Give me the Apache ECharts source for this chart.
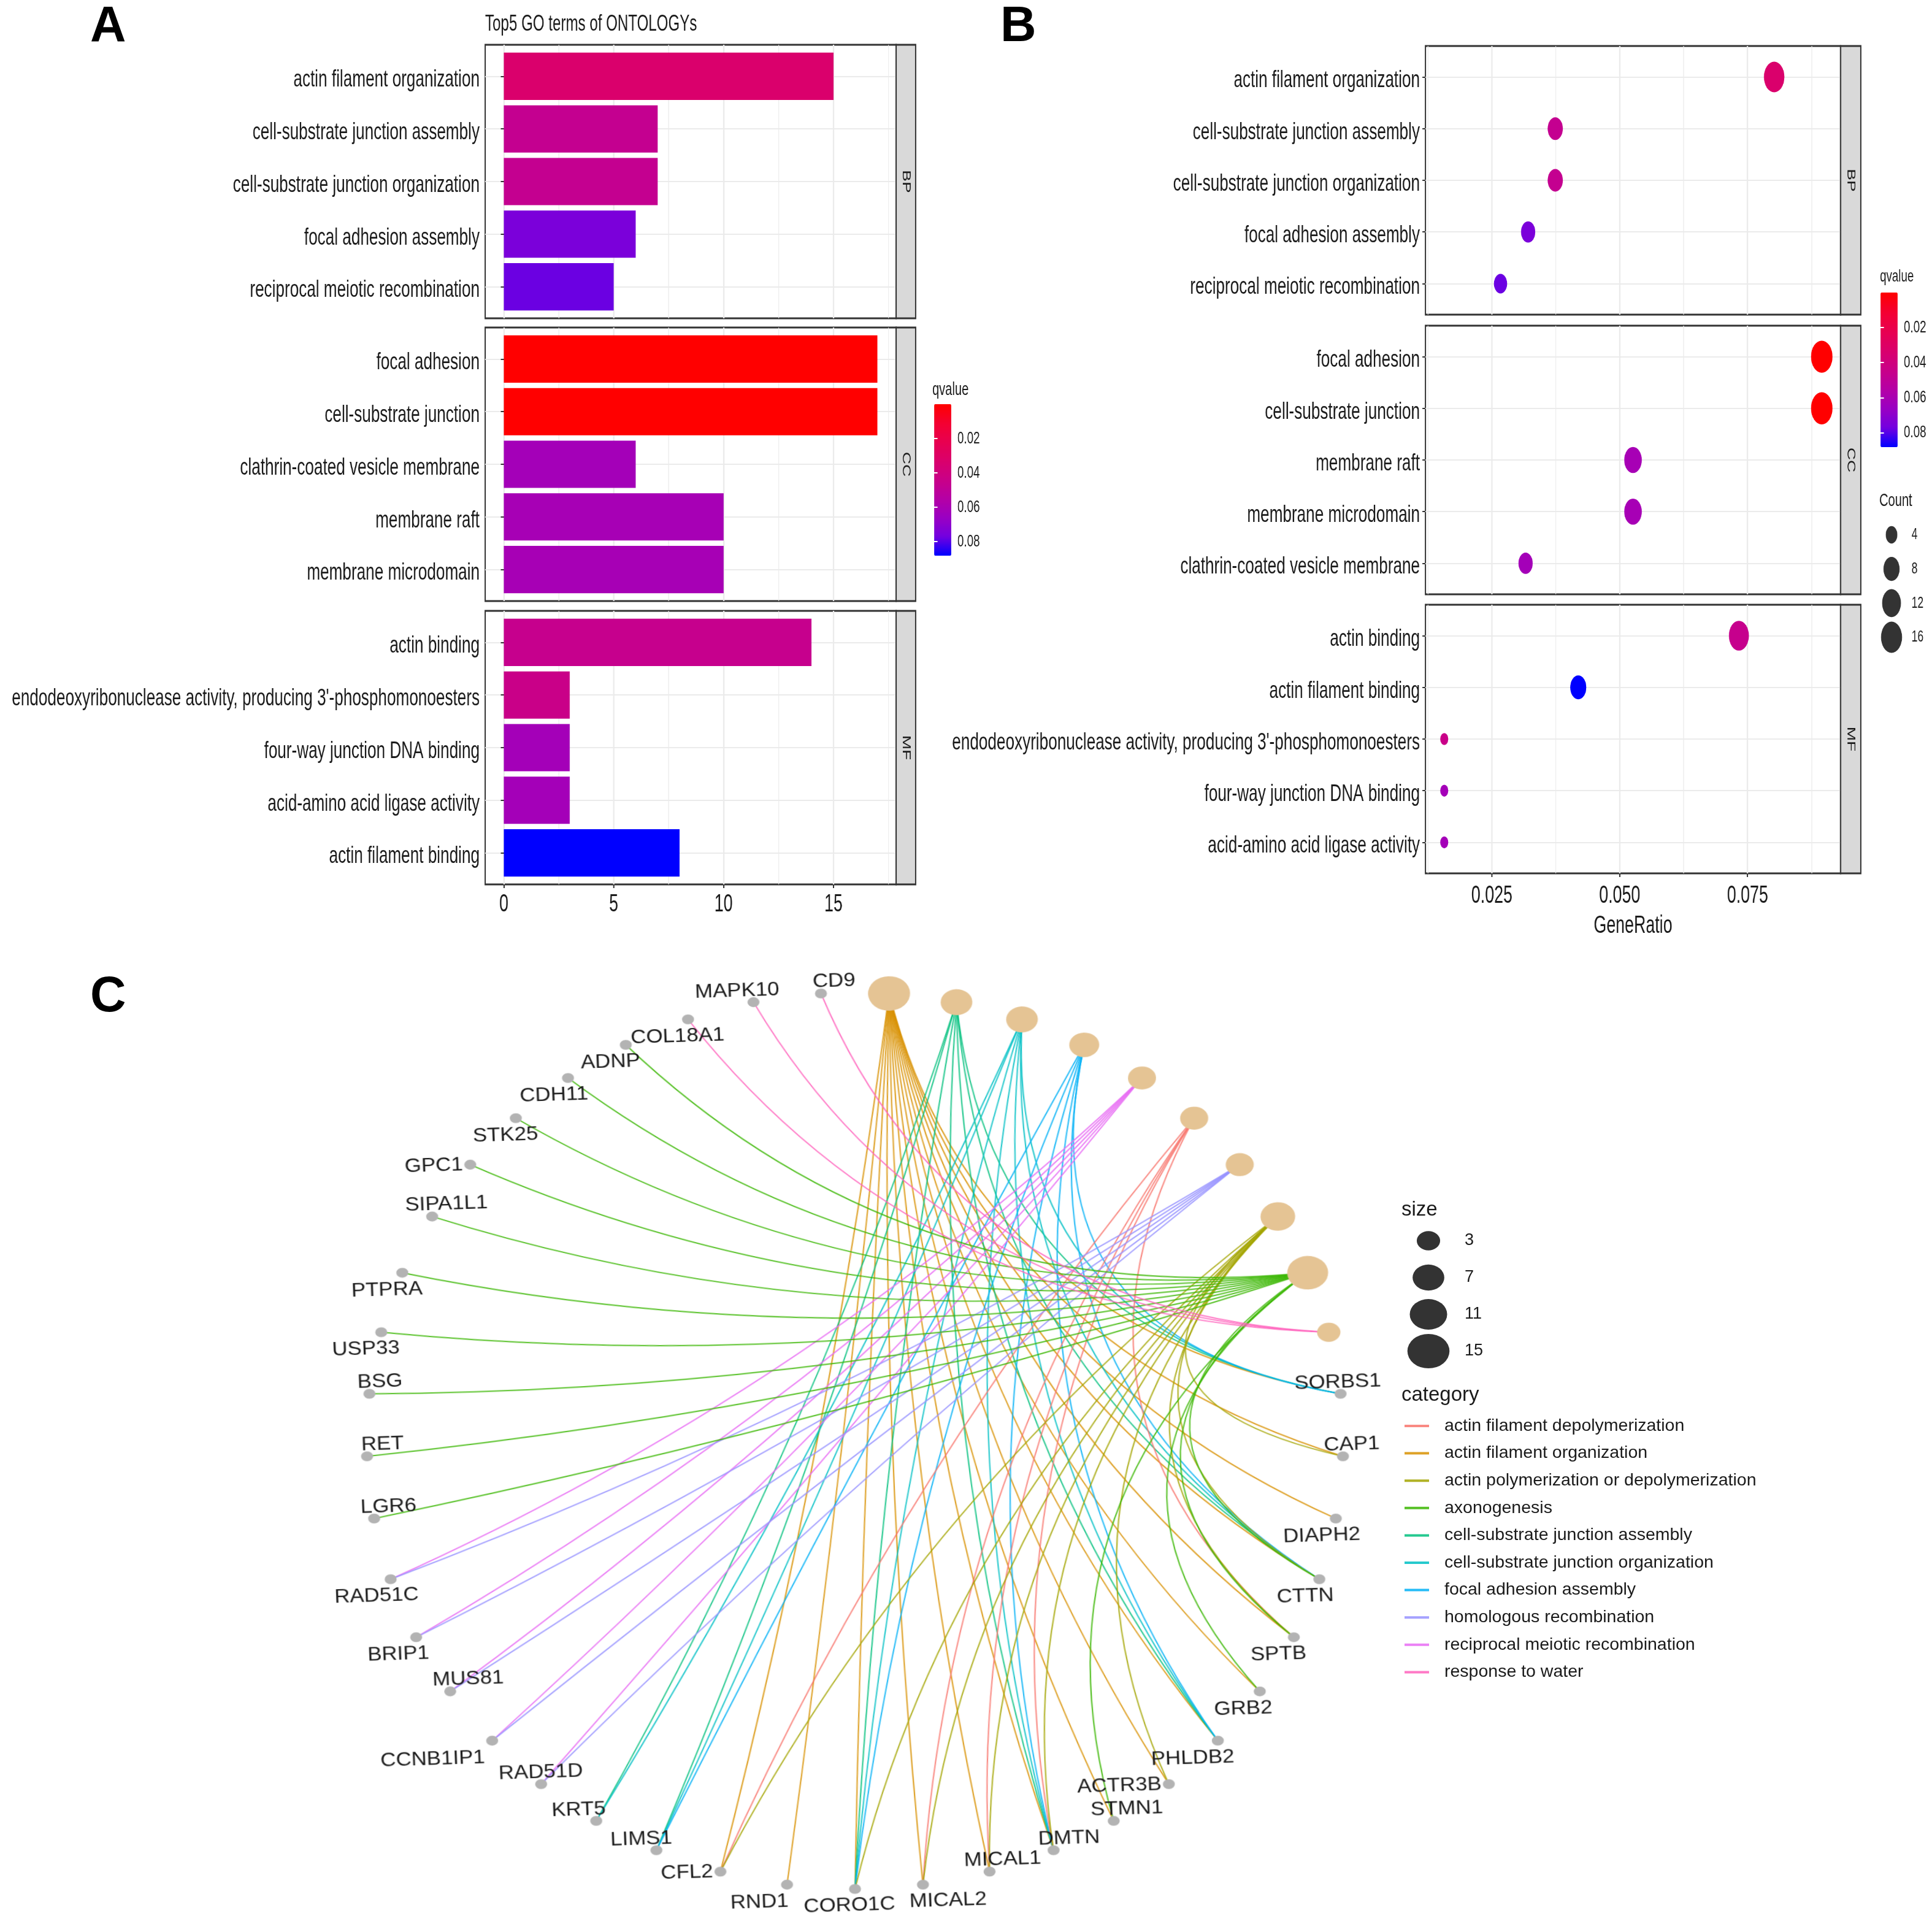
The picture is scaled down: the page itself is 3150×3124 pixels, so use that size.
<!DOCTYPE html>
<html>
<head>
<meta charset="utf-8">
<title>GO enrichment</title>
<script src="https://cdn.jsdelivr.net/npm/echarts@6.0.0/dist/echarts.min.js"></script>
<style>
html,body{margin:0;padding:0;overflow:hidden;background:#ffffff;width:3150px;height:3124px;}
#main{position:absolute;left:0;top:0;width:3150px;height:3124px;}
#ab{position:absolute;left:0;top:0;width:4702px;height:1560px;transform:scaleX(0.67);transform-origin:0 0;}
#net{position:absolute;left:394px;top:1499px;width:2000px;height:1625px;transform:scaleX(1.089) rotate(-2deg);transform-origin:1000px 850px;}
</style>
</head>
<body>
<div id="main"></div>
<div id="ab"></div>
<div id="net"></div>
<script>
// ================= DATA: panel A (bar) and B (dot) =================
const bpTerms = ['actin filament organization','cell-substrate junction assembly','cell-substrate junction organization','focal adhesion assembly','reciprocal meiotic recombination'];
const bpCount = [15, 7, 7, 6, 5];
const bpQ = [0.033, 0.047, 0.047, 0.075, 0.078];
const bpRatio = [0.0802, 0.0374, 0.0374, 0.0321, 0.0267];

const ccTermsA = ['focal adhesion','cell-substrate junction','clathrin-coated vesicle membrane','membrane raft','membrane microdomain'];
const ccCountA = [17, 17, 6, 10, 10];
const ccQA = [0.0001, 0.0001, 0.062, 0.061, 0.061];
const ccTermsB = ['focal adhesion','cell-substrate junction','membrane raft','membrane microdomain','clathrin-coated vesicle membrane'];
const ccCountB = [17, 17, 10, 10, 6];
const ccQB = [0.0001, 0.0001, 0.061, 0.061, 0.062];
const ccRatioB = [0.0895, 0.0895, 0.0526, 0.0526, 0.0316];

const mfTermsA = ['actin binding', "endodeoxyribonuclease activity, producing 3'-phosphomonoesters", 'four-way junction DNA binding', 'acid-amino acid ligase activity', 'actin filament binding'];
const mfCountA = [14, 3, 3, 3, 8];
const mfQA = [0.046, 0.044, 0.062, 0.062, 0.0882];
const mfTermsB = ['actin binding', 'actin filament binding', "endodeoxyribonuclease activity, producing 3'-phosphomonoesters", 'four-way junction DNA binding', 'acid-amino acid ligase activity'];
const mfCountB = [14, 8, 3, 3, 3];
const mfQB = [0.046, 0.0882, 0.044, 0.062, 0.062];
const mfRatioB = [0.0733, 0.0419, 0.0157, 0.0157, 0.0157];

// ================= DATA: panel C (gene-concept network) =================
const cnetCategories = ['actin filament organization','cell-substrate junction assembly','cell-substrate junction organization','focal adhesion assembly','reciprocal meiotic recombination','actin filament depolymerization','homologous recombination','actin polymerization or depolymerization','axonogenesis','response to water'];
const cnetGenes = [
  ['SORBS1','CAP1','DIAPH2','CTTN','SPTB','GRB2','PHLDB2','ACTR3B','STMN1','DMTN','MICAL1','MICAL2','CORO1C','RND1','CFL2'],
  ['LIMS1','KRT5','SORBS1','CTTN','PHLDB2','DMTN','CORO1C'],
  ['LIMS1','KRT5','SORBS1','CTTN','PHLDB2','DMTN','CORO1C'],
  ['LIMS1','SORBS1','CTTN','PHLDB2','DMTN','CORO1C'],
  ['RAD51D','CCNB1IP1','MUS81','BRIP1','RAD51C'],
  ['SPTB','DMTN','MICAL1','MICAL2','CFL2'],
  ['RAD51D','CCNB1IP1','MUS81','BRIP1','RAD51C'],
  ['CAP1','CTTN','SPTB','ACTR3B','DMTN','MICAL1','MICAL2','CORO1C','CFL2'],
  ['LGR6','RET','BSG','USP33','PTPRA','SIPA1L1','GPC1','STK25','CDH11','ADNP','STMN1','CTTN','SPTB','GRB2'],
  ['COL18A1','MAPK10','CD9']
];

// ================= tick / legend labels =================
const countTicks = [0, 5, 10, 15];
const countMinor = [2.5, 7.5, 12.5, 17.5];
const ratioTicks = [0.025, 0.050, 0.075];
const ratioMinor = [0.0125, 0.0375, 0.0625, 0.0875];
const qTicks = [0.02, 0.04, 0.06, 0.08];
const countLegend = [4, 8, 12, 16];
const sizeLegend = [3, 7, 11, 15];
const facets = ['BP', 'CC', 'MF'];

// ================= styles / layout =================
const FONT = "'Liberation Sans', Arial, Helvetica, sans-serif";
const TXT = '#1a1a1a';
const GRID_C = '#EBEBEB';
const QCOLORS = ['#FF0000','#F40031','#E80050','#DA006C','#C90088','#B500A5','#9A00C3','#7300E0','#0000FF'];
const HUE = ['#F8766D','#D89000','#A3A500','#39B600','#00BF7D','#00BFC4','#00B0F6','#9590FF','#E76BF3','#FF62BC'];
const S = 0.67;               // horizontal squeeze of panels A/B
const fx = v => v / S;
const A_LAY = {left: 791, right: 1461, strip: 32, h: 446, tops: [73, 534, 996]};
const B_LAY = {left: 2324, right: 3001, strip: 33, h: 438, tops: [75, 531, 986]};
// gene label placement (side, horizontal nudge in page px) - styling only
const geneLabelStyle = {
  SORBS1:['top',-4], CAP1:['top',15], DIAPH2:['bottom',-24], CTTN:['bottom',-24], SPTB:['bottom',-26], GRB2:['bottom',-28],
  PHLDB2:['bottom',-42], ACTR3B:['left',0], STMN1:['top',22], DMTN:['top',26], MICAL1:['top',22], MICAL2:['bottom',40],
  CORO1C:['bottom',-10], RND1:['bottom',-46], CFL2:['left',0], LIMS1:['top',-24], KRT5:['top',-28], RAD51D:['top',0],
  CCNB1IP1:['bottom',-98], MUS81:['top',30], BRIP1:['bottom',-30], RAD51C:['bottom',-24], LGR6:['top',24], RET:['top',26],
  BSG:['top',18], USP33:['bottom',-26], PTPRA:['bottom',-26], SIPA1L1:['top',24], GPC1:['left',0], STK25:['bottom',-18],
  CDH11:['bottom',-24], ADNP:['bottom',-26], COL18A1:['bottom',-18], MAPK10:['top',-26], CD9:['top',22]
};

// ================= scales =================
const allQ = bpQ.concat(ccQA, mfQA);
const qMin = Math.min(...allQ), qMax = Math.max(...allQ);
function expand(lo, hi) { const d = (hi - lo) * 0.05; return [lo - d, hi + d]; }
const aRange = expand(0, Math.max(...bpCount, ...ccCountA, ...mfCountA));
const allRatio = bpRatio.concat(ccRatioB, mfRatioB);
const bRange = expand(Math.min(...allRatio), Math.max(...allRatio));
const allCountB = bpCount.concat(ccCountB, mfCountB);
const cMin = Math.min(...allCountB), cMax = Math.max(...allCountB);
const dotSize = v => 19.5 + 32.8 * Math.sqrt(Math.max(0, (v - cMin) / (cMax - cMin)));
const nodeW = v => 19.6 + 13.1 * Math.sqrt(v - 1);
const NODE_ASPECT = 1.22;
const C_STRETCH = 1.089;
const NODE_BOX = 80;   // every network node shares one symbol box so the circular layout spaces them evenly

// ================= Panels A + B =================
const grids = [], xAxes = [], yAxes = [], series = [], graphics = [];
function addFacet(o) {
  const n = o.terms.length;
  const unit = o.h / (n + 0.2);
  const L = fx(o.left), W = fx(o.right - o.left);
  const fg = grids.length;
  grids.push({left: L, top: o.top, width: W, height: o.h, show: true, backgroundColor: '#ffffff', borderColor: '#333333', borderWidth: 3, outerBoundsMode: 'none', containLabel: false});
  xAxes.push({gridIndex: fg, type: 'value', min: o.range[0], max: o.range[1], position: 'bottom',
    axisLine: {show: false},
    axisTick: {show: o.bottom, customValues: o.major, length: 6, lineStyle: {color: '#333333', width: fx(2)}},
    axisLabel: {show: o.bottom, customValues: o.major, fontSize: 40, color: TXT, margin: o.labelMargin, formatter: o.fmt, fontFamily: FONT},
    splitLine: {show: true, lineStyle: {color: GRID_C, width: fx(2.2)}},
    name: (o.bottom && o.name) ? o.name : '', nameLocation: 'middle', nameGap: o.nameGap || 0,
    nameTextStyle: {fontSize: 40, color: TXT, fontFamily: FONT}});
  xAxes.push({gridIndex: fg, type: 'value', min: o.range[0], max: o.range[1], position: 'top',
    axisLine: {show: false}, axisTick: {show: false, customValues: o.minor}, axisLabel: {show: false, customValues: o.minor},
    splitLine: {show: true, lineStyle: {color: GRID_C, width: fx(1.1)}}});
  const pos = o.terms.map((_, i) => i + 1);
  yAxes.push({gridIndex: fg, type: 'value', inverse: true, min: 0.4, max: n + 0.6,
    axisLine: {show: false}, axisTick: {show: false, customValues: pos}, axisLabel: {show: false, customValues: pos},
    splitLine: {show: true, lineStyle: {color: GRID_C, width: 2.2}}});
  const dg = grids.length;
  grids.push({left: L, top: o.top + 0.1 * unit, width: W, height: o.h - 0.2 * unit, show: false, outerBoundsMode: 'none', containLabel: false});
  xAxes.push({gridIndex: dg, type: 'value', min: o.range[0], max: o.range[1], show: false});
  yAxes.push({gridIndex: dg, type: 'category', data: o.terms, inverse: true,
    axisLine: {show: false},
    axisTick: {show: true, alignWithLabel: true, length: fx(5), lineStyle: {color: '#333333', width: 2}},
    axisLabel: {interval: 0, margin: fx(9), formatter: v => '{t|' + v + '}',
      rich: {t: {fontSize: 39, color: TXT, fontFamily: FONT, padding: [12, 0, 0, 0]}}},
    splitLine: {show: false}});
  graphics.push({type: 'rect', z: 10, shape: {x: fx(o.right), y: o.top, width: fx(o.strip), height: o.h}, style: {fill: '#D9D9D9', stroke: '#333333', lineWidth: 3}});
  graphics.push({type: 'text', z: 11, x: fx(o.right + o.strip / 2), y: o.top + o.h / 2, rotation: -Math.PI / 2,
    style: {text: o.facet, fontSize: 28, fill: TXT, align: 'center', verticalAlign: 'middle', fontFamily: FONT}});
  return {x: xAxes.length - 1, y: yAxes.length - 1};
}

const facetA = [
  {terms: bpTerms, count: bpCount, q: bpQ},
  {terms: ccTermsA, count: ccCountA, q: ccQA},
  {terms: mfTermsA, count: mfCountA, q: mfQA}
];
facetA.forEach((f, p) => {
  const ax = addFacet({terms: f.terms, left: A_LAY.left, right: A_LAY.right, strip: A_LAY.strip, top: A_LAY.tops[p], h: A_LAY.h,
    range: aRange, major: countTicks, minor: countMinor, bottom: p === 2, fmt: v => String(v), labelMargin: 13, facet: facets[p]});
  series.push({type: 'bar', xAxisIndex: ax.x, yAxisIndex: ax.y, barWidth: '90%', encode: {x: 0, y: 1},
    data: f.terms.map((t, i) => [f.count[i], t, f.q[i]]), z: 3, silent: true});
});

const facetB = [
  {terms: bpTerms, ratio: bpRatio, count: bpCount, q: bpQ},
  {terms: ccTermsB, ratio: ccRatioB, count: ccCountB, q: ccQB},
  {terms: mfTermsB, ratio: mfRatioB, count: mfCountB, q: mfQB}
];
facetB.forEach((f, p) => {
  const ax = addFacet({terms: f.terms, left: B_LAY.left, right: B_LAY.right, strip: B_LAY.strip, top: B_LAY.tops[p], h: B_LAY.h,
    range: bRange, major: ratioTicks, minor: ratioMinor, bottom: p === 2, fmt: v => v.toFixed(3), labelMargin: 17,
    name: 'GeneRatio', nameGap: 66, facet: facets[p]});
  series.push({type: 'scatter', xAxisIndex: ax.x, yAxisIndex: ax.y, encode: {x: 0, y: 1},
    data: f.terms.map((t, i) => [f.ratio[i], t, f.count[i], f.q[i]]),
    symbolSize: d => dotSize(d[2]), itemStyle: {opacity: 1}, z: 3, silent: true});
});

// colour-bar tick axes
function addColorbarAxis(left, top, width, height) {
  const g = grids.length;
  grids.push({left: left, top: top, width: width, height: height, show: false, outerBoundsMode: 'none', containLabel: false});
  xAxes.push({gridIndex: g, type: 'value', min: 0, max: 1, show: false});
  yAxes.push({gridIndex: g, type: 'value', position: 'right', inverse: true, min: qMin, max: qMax, z: 10,
    axisLine: {show: false}, splitLine: {show: false},
    axisTick: {show: true, inside: true, customValues: qTicks, length: width * 0.2, lineStyle: {color: '#ffffff', width: 2}},
    axisLabel: {customValues: qTicks, fontSize: 28, color: TXT, margin: fx(10), formatter: v => v.toFixed(2), fontFamily: FONT}});
  yAxes.push({gridIndex: g, type: 'value', position: 'left', inverse: true, min: qMin, max: qMax, z: 10,
    axisLine: {show: false}, splitLine: {show: false},
    axisTick: {show: true, inside: true, customValues: qTicks, length: width * 0.2, lineStyle: {color: '#ffffff', width: 2}},
    axisLabel: {show: false}});
}
addColorbarAxis(fx(1523), 659, fx(28), 247);
addColorbarAxis(fx(3066), 477, fx(28), 252);

// Count (size) legend of panel B
(function () {
  const unitC = (1039 - 872) / 3;
  const g = grids.length;
  grids.push({left: fx(3084) - 1, top: 872 - unitC / 2, width: 2, height: unitC * 4, show: false, outerBoundsMode: 'none', containLabel: false});
  xAxes.push({gridIndex: g, type: 'value', min: -1, max: 1, show: false});
  yAxes.push({gridIndex: g, type: 'category', data: countLegend.map(String), inverse: true, position: 'right',
    axisLine: {show: false}, axisTick: {show: false}, splitLine: {show: false},
    axisLabel: {interval: 0, fontSize: 26, color: TXT, margin: fx(32), fontFamily: FONT}});
  series.push({type: 'scatter', xAxisIndex: xAxes.length - 1, yAxisIndex: yAxes.length - 1,
    data: countLegend.map(v => [0, String(v), v]), symbolSize: d => dotSize(d[2]), itemStyle: {color: '#000000'}, silent: true});
})();

graphics.push({type: 'text', x: fx(791), y: 40, style: {text: 'Top5 GO terms of ONTOLOGYs', fontSize: 36, fill: TXT, align: 'left', verticalAlign: 'middle', fontFamily: FONT}});
graphics.push({type: 'text', x: fx(1520), y: 636, style: {text: 'qvalue', fontSize: 30, fill: TXT, align: 'left', verticalAlign: 'middle', fontFamily: FONT}});
graphics.push({type: 'text', x: fx(3065), y: 451, style: {text: 'qvalue', fontSize: 28, fill: TXT, align: 'left', verticalAlign: 'middle', fontFamily: FONT}});
graphics.push({type: 'text', x: fx(3064), y: 817, style: {text: 'Count', fontSize: 30, fill: TXT, align: 'left', verticalAlign: 'middle', fontFamily: FONT}});

const ab = echarts.init(document.getElementById('ab'), null, {renderer: 'canvas'});
ab.setOption({
  animation: false,
  textStyle: {fontFamily: FONT},
  grid: grids, xAxis: xAxes, yAxis: yAxes, series: series, graphic: graphics,
  visualMap: [
    {type: 'continuous', seriesIndex: [0, 1, 2], dimension: 2, min: qMin, max: qMax, inverse: true, orient: 'vertical',
     left: fx(1523), top: 659, itemWidth: fx(28), itemHeight: 247, padding: 0, calculable: false, text: null,
     inRange: {color: QCOLORS}},
    {type: 'continuous', seriesIndex: [3, 4, 5], dimension: 3, min: qMin, max: qMax, inverse: true, orient: 'vertical',
     left: fx(3066), top: 477, itemWidth: fx(28), itemHeight: 252, padding: 0, calculable: false, text: null,
     inRange: {color: QCOLORS}}
  ]
});

// ================= Panel C: network =================
const sortedCats = cnetCategories.slice().sort();
const catColor = {};
sortedCats.forEach((c, i) => { catColor[c] = HUE[i]; });
const geneOrder = [];
cnetGenes.forEach(list => list.forEach(g => { if (geneOrder.indexOf(g) < 0) geneOrder.push(g); }));
const ring = cnetCategories.concat(geneOrder);           // order clockwise from 12 o'clock
const quarter = Math.floor(ring.length / 4);
const layoutOrder = ring.slice(quarter).concat(ring.slice(0, quarter)); // library starts at 3 o'clock

// ellipse symbol drawn inside a common NODE_BOX so that every node has the same layout footprint
function ellipseSymbol(w, h) {
  const c = NODE_BOX / 2, rx = w / 2, ry = h / 2, e = 0.01;
  return 'path://M0,0h' + e + 'v' + e + 'h-' + e + 'Z' +
    'M' + NODE_BOX + ',' + NODE_BOX + 'h-' + e + 'v-' + e + 'h' + e + 'Z' +
    'M' + (c - rx) + ',' + c + 'A' + rx + ',' + ry + ' 0 1 0 ' + (c + rx) + ',' + c +
    'A' + rx + ',' + ry + ' 0 1 0 ' + (c - rx) + ',' + c + 'Z';
}
const nodes = layoutOrder.map(name => {
  const ci = cnetCategories.indexOf(name);
  const isCat = ci >= 0;
  const w = nodeW(isCat ? cnetGenes[ci].length : 1);
  const sw = w / C_STRETCH, sh = w / NODE_ASPECT;
  let label = {show: false};
  if (!isCat) {
    const st = geneLabelStyle[name] || ['top', 0];
    const baseDist = -(NODE_BOX / 2 - sh / 2 - 3);
    label = {show: true, position: st[0], distance: st[0] === 'top' ? baseDist - 8 : baseDist,
      offset: [st[1] / C_STRETCH, 0], fontSize: 32, color: TXT, fontFamily: FONT};
  }
  return {
    name: name,
    symbol: ellipseSymbol(sw, sh),
    symbolSize: NODE_BOX,
    symbolKeepAspect: false,
    itemStyle: {color: isCat ? '#E5C494' : '#B3B3B3'},
    label: label
  };
});
const links = [];
cnetGenes.forEach((list, ci) => list.forEach(g => {
  links.push({source: cnetCategories[ci], target: g, lineStyle: {color: catColor[cnetCategories[ci]]}});
}));

const net = echarts.init(document.getElementById('net'), null, {renderer: 'canvas'});
net.setOption({
  animation: false,
  textStyle: {fontFamily: FONT},
  series: [{
    type: 'graph', layout: 'circular', left: 269, top: 119, width: 1462, height: 1462,
    roam: false, draggable: false, silent: true,
    circular: {rotateLabel: false},
    data: nodes, links: links,
    lineStyle: {width: 2, opacity: 0.85, curveness: 0.18},
    emphasis: {disabled: true}
  }]
});

// ================= Main canvas: panel letters and panel-C legends =================
const main = echarts.init(document.getElementById('main'), null, {renderer: 'canvas'});
const letter = (t, x, y) => ({type: 'text', x: x, y: y, style: {text: t, fontSize: 81, fontWeight: 'bold', fill: '#000000', align: 'left', verticalAlign: 'middle', fontFamily: FONT}});
main.setOption({
  animation: false,
  backgroundColor: '#ffffff',
  textStyle: {fontFamily: FONT},
  graphic: [
    letter('A', 147, 45), letter('B', 1631, 45), letter('C', 147, 1627),
    {type: 'text', x: 2285, y: 1973, style: {text: 'size', fontSize: 33, fill: TXT, align: 'left', verticalAlign: 'middle', fontFamily: FONT}},
    {type: 'text', x: 2285, y: 2275, style: {text: 'category', fontSize: 33, fill: TXT, align: 'left', verticalAlign: 'middle', fontFamily: FONT}}
  ],
  grid: [{left: 2328, top: 1993, width: 2, height: 240, show: false, outerBoundsMode: 'none', containLabel: false}],
  xAxis: [{type: 'value', min: -1, max: 1, show: false}],
  yAxis: [{type: 'category', data: sizeLegend.map(String), inverse: true, position: 'right',
    axisLine: {show: false}, axisTick: {show: false}, splitLine: {show: false},
    axisLabel: {interval: 0, fontSize: 27, color: TXT, margin: 58, fontFamily: FONT}}],
  legend: {
    orient: 'vertical', left: 2290, top: 2310, padding: 0, itemGap: 14.6, itemWidth: 60, itemHeight: 4,
    icon: 'path://M0,0H40V4H0Z M59.9,0H60V4H59.9Z', data: sortedCats, selectedMode: false,
    textStyle: {fontSize: 28.5, lineHeight: 30, color: TXT, fontFamily: FONT}
  },
  series: [
    {type: 'scatter', data: sizeLegend.map(v => [0, String(v), v]),
     symbolSize: d => [nodeW(d[2]), nodeW(d[2]) / NODE_ASPECT], itemStyle: {color: '#000000'}, silent: true}
  ].concat(sortedCats.map(c => ({type: 'line', name: c, data: [], color: catColor[c], itemStyle: {color: catColor[c], opacity: 0.85}, lineStyle: {color: catColor[c]}})))
});
</script>
</body>
</html>
